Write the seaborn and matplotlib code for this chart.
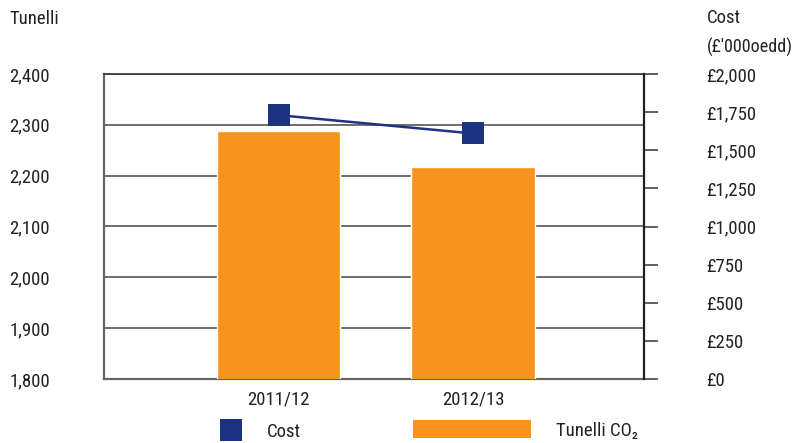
import matplotlib
matplotlib.use("Agg")
import matplotlib.pyplot as plt
from matplotlib.lines import Line2D
from matplotlib.patches import Patch
import pandas as pd
import seaborn as sns

# data
years = ["2011/12", "2012/13"]
tonnes = [2288, 2217]
cost = [1730, 1610]
left_ticks = [1800, 1900, 2000, 2100, 2200, 2300, 2400]
right_ticks = [0, 250, 500, 750, 1000, 1250, 1500, 1750, 2000]
right_labels = ["£0", "£250", "£500", "£750", "£1,000", "£1,250", "£1,500", "£1,750", "£2,000"]

orange = "#f7941d"
navy = "#1c3382"
fs = 13.5

sns.set_style("white")
plt.rcParams["font.family"] = ["Roboto Condensed", "Liberation Sans", "DejaVu Sans"]
plt.rcParams["font.size"] = fs
plt.rcParams["text.color"] = "#222222"

df = pd.DataFrame({"year": years, "tonnes": tonnes, "cost": cost})

fig = plt.figure(figsize=(7.95, 4.43), dpi=100)
ax = fig.add_axes([104 / 795, 1 - 379 / 443, 540 / 795, 305 / 443])

# bars on the left axis
sns.barplot(data=df, x="year", y="tonnes", color=orange, saturation=1,
            width=0.634, ax=ax, zorder=3)
ax.set_ylim(1800, 2400)
ax.set_xlim(-0.9, 1.88)
ax.set_yticks(left_ticks)
ax.set_yticklabels([f"{v:,}" for v in left_ticks], ha="left")
ax.tick_params(axis="y", length=0, pad=68, labelsize=fs, labelcolor="#222222")
ax.tick_params(axis="x", length=0, pad=8, labelsize=fs, labelcolor="#222222")
ax.set_xlabel("")
ax.set_ylabel("")
ax.grid(axis="y", color="#555555", linewidth=1.2, zorder=0)
ax.set_axisbelow(True)
for side in ["left", "bottom"]:
    ax.spines[side].set_color("#666666")
    ax.spines[side].set_linewidth(1.6)
ax.spines["top"].set_color("#333333")
ax.spines["top"].set_linewidth(1.2)
ax.spines["right"].set_visible(False)

# cost line on the right axis
ax2 = ax.twinx()
sns.lineplot(data=df, x="year", y="cost", color=navy, linewidth=1.8,
             marker="s", markersize=16.5, markeredgewidth=0, ax=ax2, zorder=4)
ax2.set_ylim(0, 2000)
ax2.set_yticks(right_ticks)
ax2.set_yticklabels(right_labels)
ax2.tick_params(axis="y", direction="out", length=10, width=1.2, color="#444444",
                pad=35, labelsize=fs, labelcolor="#222222")
ax2.set_ylabel("")
ax2.set_xlabel("")
for side in ["left", "top", "bottom"]:
    ax2.spines[side].set_visible(False)
ax2.spines["right"].set_color("#222222")
ax2.spines["right"].set_linewidth(1.6)

# axis titles
fig.text(10 / 795, 1 - 19 / 443, "Tunelli", va="center", ha="left", fontsize=fs)
fig.text(707 / 795, 1 - 18 / 443, "Cost", va="center", ha="left", fontsize=fs)
fig.text(707 / 795, 1 - 47 / 443, "(£'000oedd)", va="center", ha="left", fontsize=fs - 0.5)

# legend below the chart
leg1 = fig.legend(handles=[Line2D([], [], color=navy, marker="s", markersize=16.5,
                                  linestyle="none", markeredgewidth=0)],
                  labels=["Cost"], loc="center left",
                  bbox_to_anchor=(219 / 795, 1 - 432 / 443), frameon=False,
                  handlelength=1.25, handletextpad=1.3, borderpad=0,
                  borderaxespad=0, fontsize=fs)
leg2 = fig.legend(handles=[Patch(facecolor=orange, edgecolor="none")],
                  labels=["Tunelli CO₂"], loc="center left",
                  bbox_to_anchor=(413 / 795, 1 - 430 / 443), frameon=False,
                  handlelength=6.3, handleheight=1.08, handletextpad=1.35,
                  borderpad=0, borderaxespad=0, fontsize=fs)

fig.savefig("out.png", dpi=100)
